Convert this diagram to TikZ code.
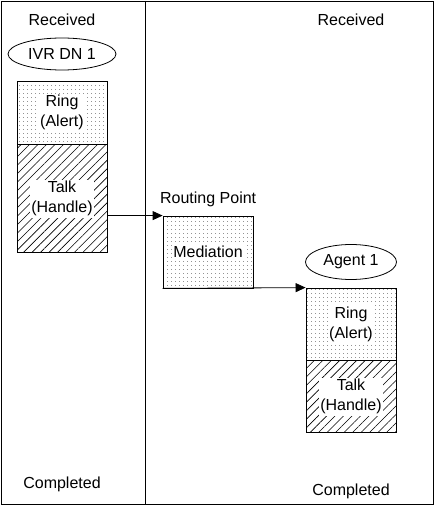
\documentclass[tikz,border=0pt]{standalone}
\usepackage{fontspec}
\setmainfont{Liberation Sans}
\usetikzlibrary{positioning,shapes.geometric,patterns.meta,arrows.meta}

\begin{document}
\begin{tikzpicture}[x=1pt,y=-1pt,align=center,
	font=\fontsize{16}{20}\selectfont,
	conn/.style={line width=0.8pt,-{Triangle[length=10pt,width=9pt]}},
	state/.style={ellipse,draw,line width=0.8pt,inner sep=0pt},
	ringbox/.style={rectangle,draw,line width=0.8pt,minimum width=90pt,
		pattern={Dots[distance=4pt,radius=0.45pt]}},
	talkbox/.style={rectangle,draw,line width=0.8pt,minimum width=90pt,
		pattern={Lines[angle=45,distance=6pt,line width=0.6pt]}},
	lbl/.style={fill=white,inner sep=1.5pt}]
\useasboundingbox (0,0) rectangle (434,505);
\draw[line width=0.8pt] (1,1) rectangle (433,504);
\draw[line width=0.8pt] (145,1) coordinate (top) -- (145,504) coordinate (bot);
% left column
\node (recl) at (62,20) {Received};
\node[state,minimum width=108pt,minimum height=32pt](ivr) at (62,54) {IVR DN 1};
\node[ringbox,minimum height=63pt,label={[lbl]center:Ring\\(Alert)}](ringl) at (62,112.5) {};
\node[talkbox,minimum height=108pt,label={[lbl]center:Talk\\(Handle)}](talkl)[below=0pt of ringl] {};
\node (compl) at (62,484) {Completed};
% routing point
\node[ringbox,minimum height=72pt](med) at (208,252) {};
\node[lbl] at (med.center) {Mediation};
\node[anchor=south west](rp) at ([xshift=-6pt,yshift=5pt]med.north west) {Routing Point};
% right column
\node (recr) at (351,20) {Received};
\node[state,minimum width=91pt,minimum height=35pt](agent) at (351,262) {Agent 1};
\node[ringbox,minimum height=72pt,label={[lbl]center:Ring\\(Alert)}](ringr) at (351,324) {};
\node[talkbox,minimum height=72pt,label={[lbl]center:Talk\\(Handle)}](talkr)[below=0pt of ringr] {};
\node (compr) at (351,491) {Completed};
\draw[conn] (talkl.east |- med.north) -- (med.north west);
\draw[conn] (med.south west) -- (ringr.north west);
\end{tikzpicture}
\end{document}
